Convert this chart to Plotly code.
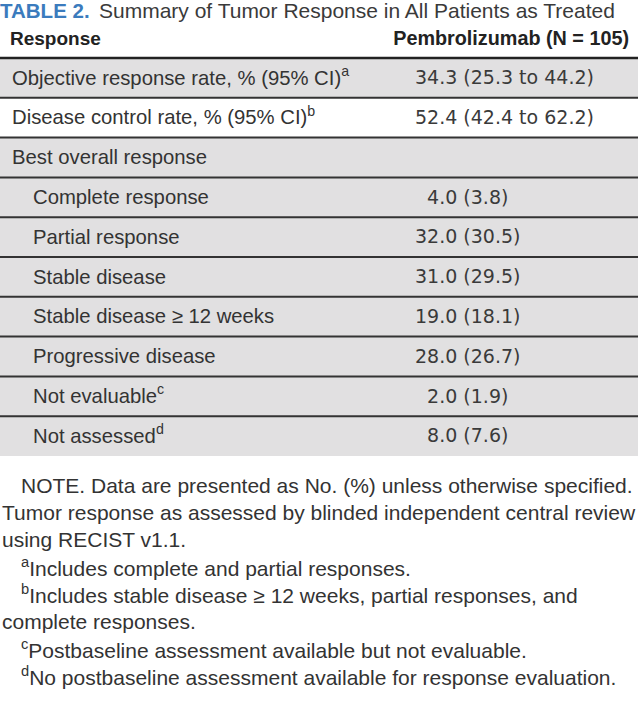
import plotly.graph_objects as go

# ---------------- data ----------------
title_label = "TABLE 2."
title_text = "Summary of Tumor Response in All Patients as Treated"
col_headers = ["Response", "Pembrolizumab (N = 105)"]

rate_labels = ["Objective response rate, % (95% CI)", "Disease control rate, % (95% CI)"]
rate_marks = ["a", "b"]
rate_values = [34.3, 52.4]
rate_ci_low = [25.3, 42.4]
rate_ci_high = [44.2, 62.2]

group_label = "Best overall response"

response_labels = ["Complete response", "Partial response", "Stable disease",
                   "Stable disease ≥ 12 weeks", "Progressive disease",
                   "Not evaluable", "Not assessed"]
response_marks = ["", "", "", "", "", "c", "d"]
response_counts = [4, 32, 31, 19, 28, 2, 8]
response_pcts = [3.8, 30.5, 29.5, 18.1, 26.7, 1.9, 7.6]

footnotes = [
    ("NOTE. Data are presented as No. (%) unless otherwise specified.", 1),
    ("Tumor response as assessed by blinded independent central review", 0),
    ("using RECIST v1.1.", 0),
    ("<sup>a</sup>Includes complete and partial responses.", 1),
    ("<sup>b</sup>Includes stable disease ≥ 12 weeks, partial responses, and", 1),
    ("complete responses.", 0),
    ("<sup>c</sup>Postbaseline assessment available but not evaluable.", 1),
    ("<sup>d</sup>No postbaseline assessment available for response evaluation.", 1),
]

# ---------------- build rows ----------------
labels, levels, values = [], [], []
for lab, mk, v, lo, hi in zip(rate_labels, rate_marks, rate_values, rate_ci_low, rate_ci_high):
    labels.append(lab + (f"<sup>{mk}</sup>" if mk else ""))
    levels.append(0)
    values.append(f"{v:.1f} ({lo:.1f} to {hi:.1f})")
labels.append(group_label)
levels.append(0)
values.append("")
for lab, mk, c, p in zip(response_labels, response_marks, response_counts, response_pcts):
    labels.append(lab + (f"<sup>{mk}</sup>" if mk else ""))
    levels.append(1)
    values.append(f"{c:.1f} ({p:.1f})")

n = len(labels)
rows = list(range(n))
shaded = [i != 1 for i in rows]


def pad(s):
    """decimal alignment: pad single-digit integers with a figure space"""
    if not s:
        return s
    ip = s.split(".")[0]
    return "\u2007" * (2 - len(ip)) + s


values_padded = [pad(s) for s in values]

# ---------------- style ----------------
W, H = 638, 715
FONT = "Liberation Sans, Arial, sans-serif"
NUMFONT = "DejaVu Sans, Verdana, sans-serif"
TXT = "#333333"
GRAY = "#e1e0e1"
BLUE = "#3b7bbd"
ROW_H = 39.8          # px per row
ROW0_CENTER = 77.9    # px of first row centre
y_top = -ROW0_CENTER / ROW_H
y_bot = (H - ROW0_CENTER) / ROW_H
TEXT_DY = 0.04        # small downward nudge of row text (row units)


def px_to_y(px):
    return (px - ROW0_CENTER) / ROW_H


fig = go.Figure()

# row backgrounds
fig.add_trace(go.Bar(
    y=rows, x=[W] * n, base=0, orientation="h", width=1.0,
    marker=dict(color=[GRAY if s else "white" for s in shaded], line=dict(width=0)),
    hoverinfo="skip", showlegend=False,
))

# row labels
fig.add_trace(go.Scatter(
    x=[12 + 21 * lv for lv in levels], y=[r + TEXT_DY for r in rows], text=labels,
    mode="text", textposition="middle right",
    textfont=dict(family=FONT, size=20.3, color=TXT),
    hoverinfo="skip", showlegend=False,
))

# values
fig.add_trace(go.Scatter(
    x=[415] * n, y=[r + TEXT_DY for r in rows], text=values_padded,
    mode="text", textposition="middle right",
    textfont=dict(family=NUMFONT, size=19, color="#3a3a3a"),
    hoverinfo="skip", showlegend=False,
))

# header
fig.add_trace(go.Scatter(
    x=[10], y=[px_to_y(40)], text=[f"<b>{col_headers[0]}</b>"],
    mode="text", textposition="middle right",
    textfont=dict(family=FONT, size=19, color="#222222"),
    hoverinfo="skip", showlegend=False,
))
fig.add_trace(go.Scatter(
    x=[629], y=[px_to_y(40)], text=[f"<b>{col_headers[1]}</b>"],
    mode="text", textposition="middle left",
    textfont=dict(family=FONT, size=19.8, color="#222222"),
    hoverinfo="skip", showlegend=False,
))

shapes = []
# header rule
shapes.append(dict(type="line", xref="paper", x0=0, x1=1, yref="y", y0=-0.5, y1=-0.5,
                   line=dict(color="#222222", width=2.5)))
# row separators
for i in range(n - 1):
    shapes.append(dict(type="line", xref="paper", x0=0, x1=1, yref="y",
                       y0=i + 0.5, y1=i + 0.5, line=dict(color="#333333", width=2)))

annotations = []
# title
annotations.append(dict(
    x=0, y=1 - 11 / H, xref="paper", yref="paper", xanchor="left", yanchor="middle",
    xshift=-2,
    text=f"<b>{title_label}</b>",
    showarrow=False, font=dict(family=FONT, size=20.5, color=BLUE),
))
annotations.append(dict(
    x=97 / W, y=1 - 11 / H, xref="paper", yref="paper", xanchor="left", yanchor="middle",
    text=title_text, showarrow=False, font=dict(family=FONT, size=21, color="#3a3a3a"),
))
# footnotes
for k, (txt, ind) in enumerate(footnotes):
    ypx = 485 + 27.3 * k
    annotations.append(dict(
        x=(0 + 19 * ind) / W, y=1 - ypx / H, xref="paper", yref="paper",
        xanchor="left", yanchor="middle", text=txt, showarrow=False,
        font=dict(family=FONT, size=21, color=TXT),
    ))

fig.update_layout(
    width=W, height=H, margin=dict(l=0, r=0, t=0, b=0),
    paper_bgcolor="white", plot_bgcolor="white",
    xaxis=dict(range=[0, W], visible=False, fixedrange=True),
    yaxis=dict(range=[y_bot, y_top], visible=False, fixedrange=True),
    shapes=shapes, annotations=annotations, showlegend=False,
    bargap=0,
)

fig.write_html("out.html", config={"displayModeBar": False},
               post_script="document.body.style.margin='0';")
